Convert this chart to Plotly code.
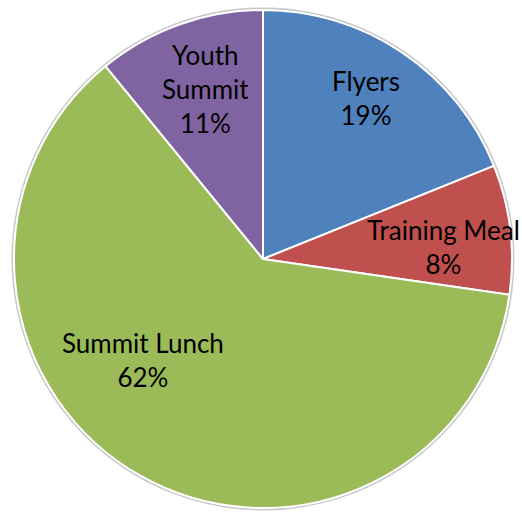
import plotly.graph_objects as go

labels = ["Flyers", "Training Meal", "Summit Lunch", "Youth Summit"]
values = [18.9, 8.4, 61.8, 10.9]
colors = ["#4F81BD", "#C0504D", "#9BBB59", "#8064A2"]
label_texts = ["Flyers<br>19%", "Training Meal<br>8%", "Summit Lunch<br>62%", "Youth<br>Summit<br>11%"]
label_pos = [(366, 98), (443, 247), (143, 360), (205, 89)]  # pixel centres of label text

W, H = 522, 512
cx, cy, r = 263, 259, 249

fig = go.Figure(go.Pie(
    labels=labels,
    values=values,
    sort=False,
    direction="clockwise",
    rotation=0,
    marker=dict(colors=colors, line=dict(color="white", width=2)),
    textinfo="none",
    hoverinfo="label+percent",
    showlegend=False,
    domain=dict(x=[(cx - r) / W, (cx + r) / W], y=[(H - cy - r) / H, (H - cy + r) / H]),
))

# faint grey shadow ring around the pie
rr = r + 1.5
fig.add_shape(
    type="circle", xref="paper", yref="paper",
    x0=(cx - rr) / W, x1=(cx + rr) / W,
    y0=(H - cy - rr) / H, y1=(H - cy + rr) / H,
    line=dict(color="#C8C8C8", width=2), fillcolor="rgba(0,0,0,0)", layer="below",
)

for txt, (px, py) in zip(label_texts, label_pos):
    fig.add_annotation(
        x=px / W, y=1 - py / H, xref="paper", yref="paper",
        text=txt, showarrow=False, xanchor="center", yanchor="middle",
        font=dict(family="Lato", size=26, color="black"),
    )

fig.update_layout(
    width=W, height=H,
    margin=dict(l=0, r=0, t=0, b=0),
    paper_bgcolor="white",
    plot_bgcolor="white",
)

fig.write_html(
    "out.html",
    config={"displayModeBar": False},
    post_script="document.body.style.margin='0';document.body.style.overflow='hidden';",
)
